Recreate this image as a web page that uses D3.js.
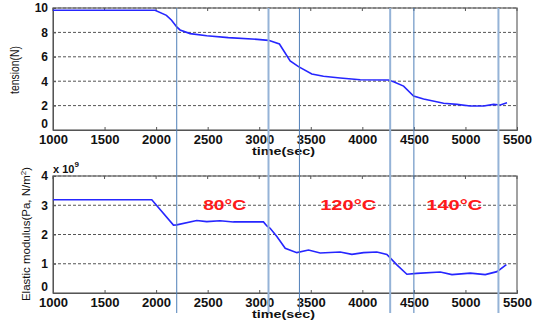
<!DOCTYPE html>
<html>
<head>
<meta charset="utf-8">
<script src="https://cdn.jsdelivr.net/npm/d3@7"></script>
<style>
  body { margin: 0; background: #fff; }
  svg { display: block; font-family: "Liberation Sans", Arial, sans-serif; }
</style>
</head>
<body>
<svg width="540" height="321"></svg>
<script>
// tension (N) vs time (sec)
var tensionTime = [1000, 1990, 2100, 2150, 2200, 2232, 2330, 2491, 2700, 2980, 3090, 3196, 3300, 3381, 3510, 3623, 3785, 3979, 4254, 4303, 4400, 4497, 4594, 4788, 4918, 5047, 5176, 5273, 5338, 5403];
var tensionVal  = [9.81, 9.81, 9.4, 9.0, 8.45, 8.2, 7.9, 7.73, 7.57, 7.43, 7.35, 7.05, 5.66, 5.19, 4.59, 4.4, 4.26, 4.12, 4.1, 3.96, 3.6, 2.79, 2.54, 2.19, 2.1, 1.97, 1.97, 2.1, 2.05, 2.24];

// elastic modulus (x 10^9 Pa) vs time (sec)
var modTime = [1000, 1958, 2168, 2200, 2394, 2491, 2620, 2750, 3041, 3074, 3106, 3171, 3252, 3365, 3478, 3591, 3785, 3899, 4012, 4141, 4238, 4335, 4432, 4529, 4756, 4869, 5047, 5192, 5306, 5397];
var modVal  = [3.19, 3.19, 2.32, 2.33, 2.48, 2.44, 2.47, 2.43, 2.43, 2.29, 2.21, 1.93, 1.53, 1.38, 1.47, 1.37, 1.40, 1.32, 1.38, 1.40, 1.32, 0.96, 0.64, 0.67, 0.72, 0.63, 0.68, 0.63, 0.73, 0.97];

var markers = [2200, 3090, 3390, 4270, 4500, 5320];
var markerLight = [false, true, false, true, false, true];

var tempLabels = ["80°C", "120°C", "140°C"];
var tempTime = [2665, 3863, 4892];

var xTicks = [1000, 1500, 2000, 2500, 3000, 3500, 4000, 4500, 5000, 5500];
var tensionTicks = [0, 2, 4, 6, 8, 10];
var modTicks = [0, 1, 2, 3, 4];

var svg = d3.select("svg");
svg.append("rect").attr("width", 540).attr("height", 321).attr("fill", "#fff");

var x = d3.scaleLinear().domain([1000, 5500]).range([53, 517]);
var yT = d3.scaleLinear().domain([0, 10]).range([130, 8]);
var yM = d3.scaleLinear().domain([0, 4]).range([293, 176]);

function panel(y, yticks, times, vals) {
  var top = y.range()[1], bot = y.range()[0];
  var g = svg.append("g");

  // dotted grid
  g.selectAll(".grid").data(yticks.slice(1)).enter().append("line")
    .attr("x1", x.range()[0]).attr("x2", x.range()[1])
    .attr("y1", function(d) { return y(d); }).attr("y2", function(d) { return y(d); })
    .attr("stroke", "#555").attr("stroke-width", 1).attr("stroke-dasharray", "3,2");

  // frame
  g.append("rect")
    .attr("x", x.range()[0]).attr("y", top)
    .attr("width", x.range()[1] - x.range()[0]).attr("height", bot - top)
    .attr("fill", "none").attr("stroke", "#707070").attr("stroke-width", 1.3);

  // top ticks
  g.selectAll(".tt").data(xTicks).enter().append("line")
    .attr("x1", function(d) { return x(d); }).attr("x2", function(d) { return x(d); })
    .attr("y1", top).attr("y2", top + 3).attr("stroke", "#555");

  var xa = g.append("g").attr("transform", "translate(0," + bot + ")")
    .call(d3.axisBottom(x).tickValues(xTicks).tickSize(-3).tickPadding(5).tickFormat(d3.format("d")));
  xa.select(".domain").attr("stroke", "#555");
  xa.selectAll(".tick line").attr("stroke", "#555");
  xa.selectAll("text").attr("font-size", 12).attr("font-weight", "bold").attr("fill", "#111")
    .attr("font-family", "Liberation Sans, Arial, sans-serif")
    .attr("textLength", 29).attr("lengthAdjust", "spacingAndGlyphs");

  var ya = g.append("g").attr("transform", "translate(" + x.range()[0] + ",0)")
    .call(d3.axisLeft(y).tickValues(yticks).tickSize(-3).tickPadding(5).tickFormat(d3.format("d")));
  ya.select(".domain").attr("stroke", "#555");
  ya.selectAll(".tick line").attr("stroke", "#555");
  ya.selectAll("text").attr("font-size", 12).attr("font-weight", "bold").attr("fill", "#111")
    .attr("font-family", "Liberation Sans, Arial, sans-serif")
    .attr("dy", function(d) { return d === 0 ? "-0.2em" : "0.32em"; });

  // data line
  var pts = times.map(function(t, i) { return [t, vals[i]]; });
  g.append("path").datum(pts)
    .attr("d", d3.line().x(function(d) { return x(d[0]); }).y(function(d) { return y(d[1]); }))
    .attr("fill", "none").attr("stroke", "#2626ff").attr("stroke-width", 1.6);

  // axis title
  g.append("text").attr("x", 283.5).attr("y", bot + 25)
    .attr("text-anchor", "middle").attr("font-size", 11).attr("font-weight", "bold").attr("fill", "#111")
    .attr("textLength", 63).attr("lengthAdjust", "spacingAndGlyphs")
    .text("time(sec)");
  return g;
}

panel(yT, tensionTicks, tensionTime, tensionVal);
panel(yM, modTicks, modTime, modVal);

// y labels
svg.append("text").attr("transform", "translate(19,70) rotate(-90)")
  .attr("text-anchor", "middle").attr("font-size", 12).attr("fill", "#111")
  .attr("textLength", 48).attr("lengthAdjust", "spacingAndGlyphs")
  .text("tension(N)");

var el = svg.append("text").attr("transform", "translate(30,234) rotate(-90)")
  .attr("text-anchor", "middle").attr("font-size", 11.5).attr("fill", "#111");
el.append("tspan").text("Elastic modulus(Pa, N/m");
el.append("tspan").attr("font-size", 8).attr("dy", -4).text("2");
el.append("tspan").attr("dy", 4).text(")");

// x 10^9
var ex = svg.append("text").attr("x", 53).attr("y", 173).attr("font-size", 11).attr("font-weight", "bold").attr("fill", "#111");
ex.append("tspan").text("x 10");
ex.append("tspan").attr("font-size", 8).attr("dy", -6).text("9");

// temperature labels
svg.selectAll(".temp").data(tempLabels).enter().append("text")
  .attr("x", function(d, i) { return x(tempTime[i]); })
  .attr("y", yM(3.0) + 5)
  .attr("text-anchor", "middle").attr("font-size", 15).attr("font-weight", "bold").attr("fill", "#ff1a1a")
  .attr("textLength", function(d) { return d.length > 4 ? 56 : 43; })
  .attr("lengthAdjust", "spacingAndGlyphs")
  .text(function(d) { return d; });

// vertical marker lines
svg.selectAll(".mk").data(markers).enter().append("line")
  .attr("x1", function(d) { return x(d); }).attr("x2", function(d) { return x(d); })
  .attr("y1", yT(10)).attr("y2", 313)
  .attr("stroke", function(d, i) { return markerLight[i] ? "#95b3d7" : "#4f7fb8"; })
  .attr("stroke-width", function(d, i) { return markerLight[i] ? 2 : 1; });
</script>
</body>
</html>
